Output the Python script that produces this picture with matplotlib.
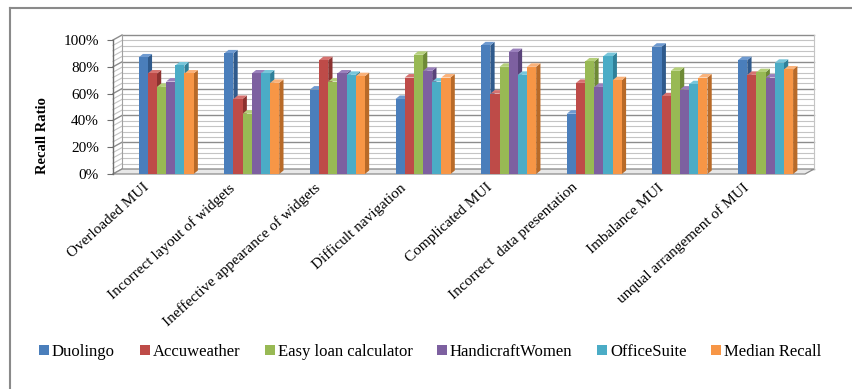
import matplotlib
matplotlib.use("Agg")
import matplotlib.pyplot as plt
from matplotlib.patches import Polygon, Patch
from matplotlib.lines import Line2D
from matplotlib.transforms import ScaledTranslation
import numpy as np

plt.rcParams['font.family'] = ['Liberation Serif', 'DejaVu Serif']

# UI problem categories and recall ratio (%) per app
categories = ["Overloaded MUI", "Incorrect layout of widgets",
              "Ineffective appearance of widgets", "Difficult navigation",
              "Complicated MUI", "Incorrect  data presentation",
              "Imbalance MUI", "unqual arrangement of MUI"]
series = ["Duolingo", "Accuweather", "Easy loan calculator",
          "HandicraftWomen", "OfficeSuite", "Median Recall"]
duolingo = [87, 90, 63, 56, 96, 45, 95, 85]
accuweather = [75, 56, 85, 72, 60, 68, 58, 74]
easy_loan = [65, 45, 69, 89, 80, 84, 77, 76]
handicraft = [69, 75, 75, 77, 91, 65, 63, 72]
officesuite = [81, 75, 74, 69, 74, 88, 67, 83]
median_recall = [75, 68, 73, 72, 80, 70, 72, 78]
values = [duolingo, accuweather, easy_loan, handicraft, officesuite, median_recall]

front = ["#4A7EBB", "#BE4B48", "#98B954", "#7D60A0", "#4BACC6", "#F79646"]
side = ["#2F5A8C", "#8C3230", "#6E8A36", "#59437A", "#2F8099", "#B86A28"]
top = ["#6E9AD0", "#D67370", "#B5D07A", "#9A80BC", "#78C6DA", "#FAB27A"]

fig = plt.figure(figsize=(8.52, 3.89), dpi=100)
ax = fig.add_axes([113 / 852, 215 / 389, 692 / 852, 134 / 389])
x0, x1 = -0.62, 7.46
ax.set_xlim(x0, x1)
ax.set_ylim(0, 100)

# depth offsets for the fake 3D look
wdx, wdy = 0.105, 3.7      # back wall
bdx, bdy = 0.05, 2.6       # bar side / top faces

# back wall and left side wall gridlines
for g in range(0, 101, 4):
    major = g % 20 == 0
    col = "#8c8c8c" if major else "#c4c4c4"
    lw = 1.0 if major else 0.8
    ax.plot([x0 + wdx, x1 + wdx], [g + wdy, g + wdy], color=col, lw=lw,
            clip_on=False, zorder=0.5)
    ax.plot([x0, x0 + wdx], [g, g + wdy], color=col, lw=lw,
            clip_on=False, zorder=0.5)
ax.plot([x0 + wdx, x0 + wdx], [wdy, 100 + wdy], color="#a0a0a0", lw=0.8,
        clip_on=False, zorder=0.5)
ax.plot([x1 + wdx, x1 + wdx], [wdy, 100 + wdy], color="#c4c4c4", lw=0.8,
        clip_on=False, zorder=0.5)

# floor
floor = Polygon([[x0, 0], [x1, 0], [x1 + wdx, wdy], [x0 + wdx, wdy]],
                closed=True, facecolor="#e8e8e8", edgecolor="#8c8c8c",
                lw=0.9, clip_on=False, zorder=0.6)
ax.add_patch(floor)

x = np.arange(len(categories))
width = 0.107
for k, vals in enumerate(values):
    pos = x + (k - 2.5) * width
    z = 2 + k * 0.1
    for px, v in zip(pos, vals):
        r = px + width / 2
        l = px - width / 2
        ax.add_patch(Polygon([[r, 0], [r + bdx, bdy], [r + bdx, v + bdy], [r, v]],
                             closed=True, facecolor=side[k], edgecolor="none",
                             clip_on=False, zorder=z))
        ax.add_patch(Polygon([[l, v], [r, v], [r + bdx, v + bdy], [l + bdx, v + bdy]],
                             closed=True, facecolor=top[k], edgecolor="none",
                             clip_on=False, zorder=z))
    ax.bar(pos, vals, width, color=front[k], linewidth=0, zorder=z + 0.05)

for s in ["top", "right", "bottom"]:
    ax.spines[s].set_visible(False)
ax.spines["left"].set_color("#6e6e6e")
ax.spines["left"].set_linewidth(1.0)

ax.set_yticks(range(0, 101, 20))
ax.set_yticklabels([f"{t}%" for t in range(0, 101, 20)], fontsize=11)
ax.tick_params(axis="y", length=4, color="#6e6e6e", pad=6)
ax.set_xticks(x)
ax.set_xticklabels(categories, rotation=42, ha="right", va="top", fontsize=11)
ax.tick_params(axis="x", length=0, pad=5)
shift = ScaledTranslation(-14 / 100, 0, fig.dpi_scale_trans)
for lbl in ax.get_xticklabels():
    lbl.set_transform(lbl.get_transform() + shift)

fig.text(42 / 852, 1 - 136 / 389, "Recall Ratio", rotation=90, ha="center",
         va="center", fontsize=10.5, fontweight="bold")

handles = [Patch(facecolor=c, edgecolor="none") for c in front]
fig.legend(handles, series, loc="center", bbox_to_anchor=(0.505, 1 - 352 / 389),
           ncol=6, frameon=False, fontsize=12, handlelength=0.6,
           handleheight=0.6, handletextpad=0.15, columnspacing=1.5)

# outer chart frame (left and top edges)
fig.add_artist(Line2D([10 / 852, 10 / 852], [0, 1 - 8 / 389], color="#8a8a8a", lw=1.5))
fig.add_artist(Line2D([10 / 852, 1], [1 - 8 / 389, 1 - 8 / 389], color="#8a8a8a", lw=1.5))

fig.savefig("out.png", dpi=100)
